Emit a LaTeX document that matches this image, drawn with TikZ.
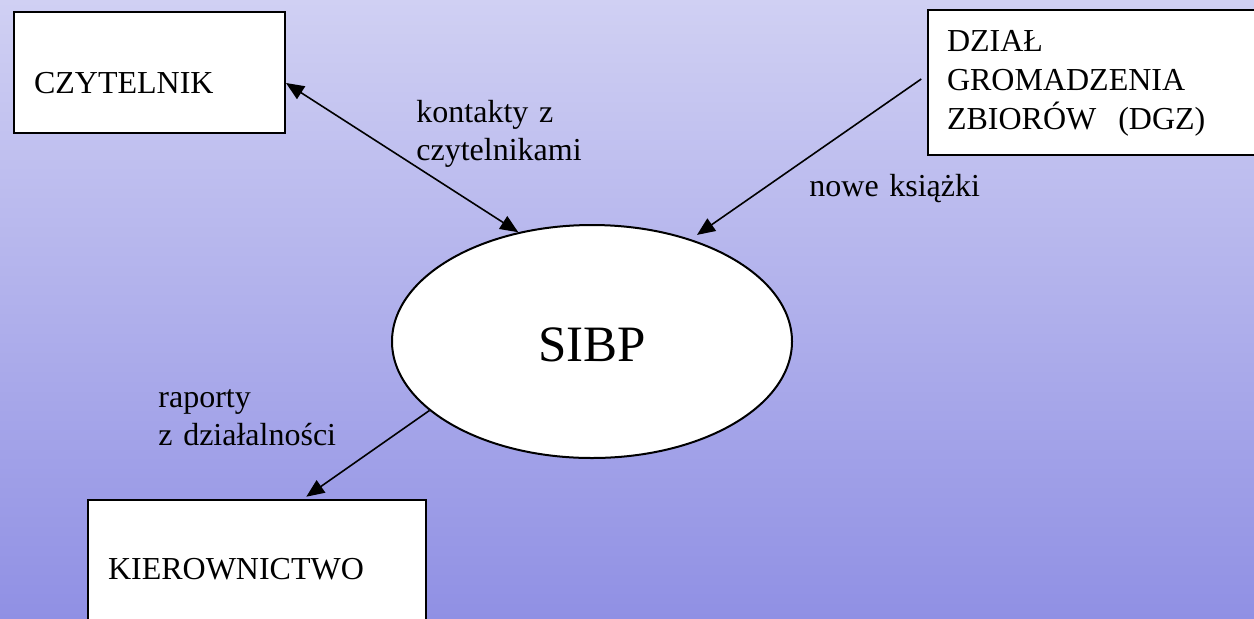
\documentclass[tikz,border=0pt]{standalone}
\usepackage{fontspec}
\setmainfont{Liberation Serif}
\usetikzlibrary{shapes.geometric,arrows.meta}
\definecolor{bgtop}{RGB}{208,208,243}
\definecolor{bgbottom}{RGB}{144,144,228}
\tikzset{flowtip/.tip={Triangle[length=9pt,width=7.5pt]}}

\begin{document}
\begin{tikzpicture}[x=0.5pt,y=-0.5pt]
  \useasboundingbox (0,0) rectangle (1254,618);
  \shade[top color=bgtop,bottom color=bgbottom] (0,0) rectangle (1254,618);
  \clip (0,0) rectangle (1254,618);
  \begin{scope}[
    every node/.style={
      draw,
      line width=1pt,
      fill=white,
      anchor=north west,
      align=left,
      inner xsep=10pt,
      inner ysep=0pt,
      font=\fontsize{16}{19.5}\selectfont,
    },
    ]
    \node[text width=115.5pt,text height=40.5pt,text depth=20pt] (czytelnik) at (13,11) {CZYTELNIK};
    \node[text width=153pt,inner xsep=9.5pt,text height=20.5pt,text depth=52pt] (dgz) at (927,9)
      {DZIAŁ\\GROMADZENIA\\ZBIORÓW\hspace{11pt}(DGZ)};
    \node[text width=149pt,text height=39.5pt,text depth=40pt] (kierownictwo) at (87,499) {KIEROWNICTWO};
  \end{scope}
  \node[draw,ellipse,line width=1pt,fill=white,inner sep=0pt,
    minimum width=200pt,minimum height=116.5pt,
    text height=20pt,text depth=0pt,font=\fontsize{25.5}{30}\selectfont] (sibp) at (592,341.5) {SIBP};
  \begin{scope}[
    every node/.style={anchor=base west,inner sep=0pt,align=left,text width=100pt,
      font=\fontsize{16}{19}\selectfont},
    ]
    \node (kontakty) at (416,122) {kontakty z\\czytelnikami};
    \node (nowe) at (809,196) {nowe książki};
    \node (raporty) at (158,407) {raporty\\z działalności};
  \end{scope}
  \begin{scope}[every path/.style={line width=0.8pt}]
    \draw[flowtip-flowtip] ([yshift=-5.25pt]czytelnik.east) -- (sibp.124.3);
    \draw[-flowtip,shorten <=3.5pt,shorten >=3.75pt] ([yshift=3.75pt]dgz.west) -- (sibp.46.4);
    \draw[-flowtip,shorten >=2pt] (sibp.203.3) -- ([xshift=23pt]kierownictwo.north);
  \end{scope}
\end{tikzpicture}
\end{document}
